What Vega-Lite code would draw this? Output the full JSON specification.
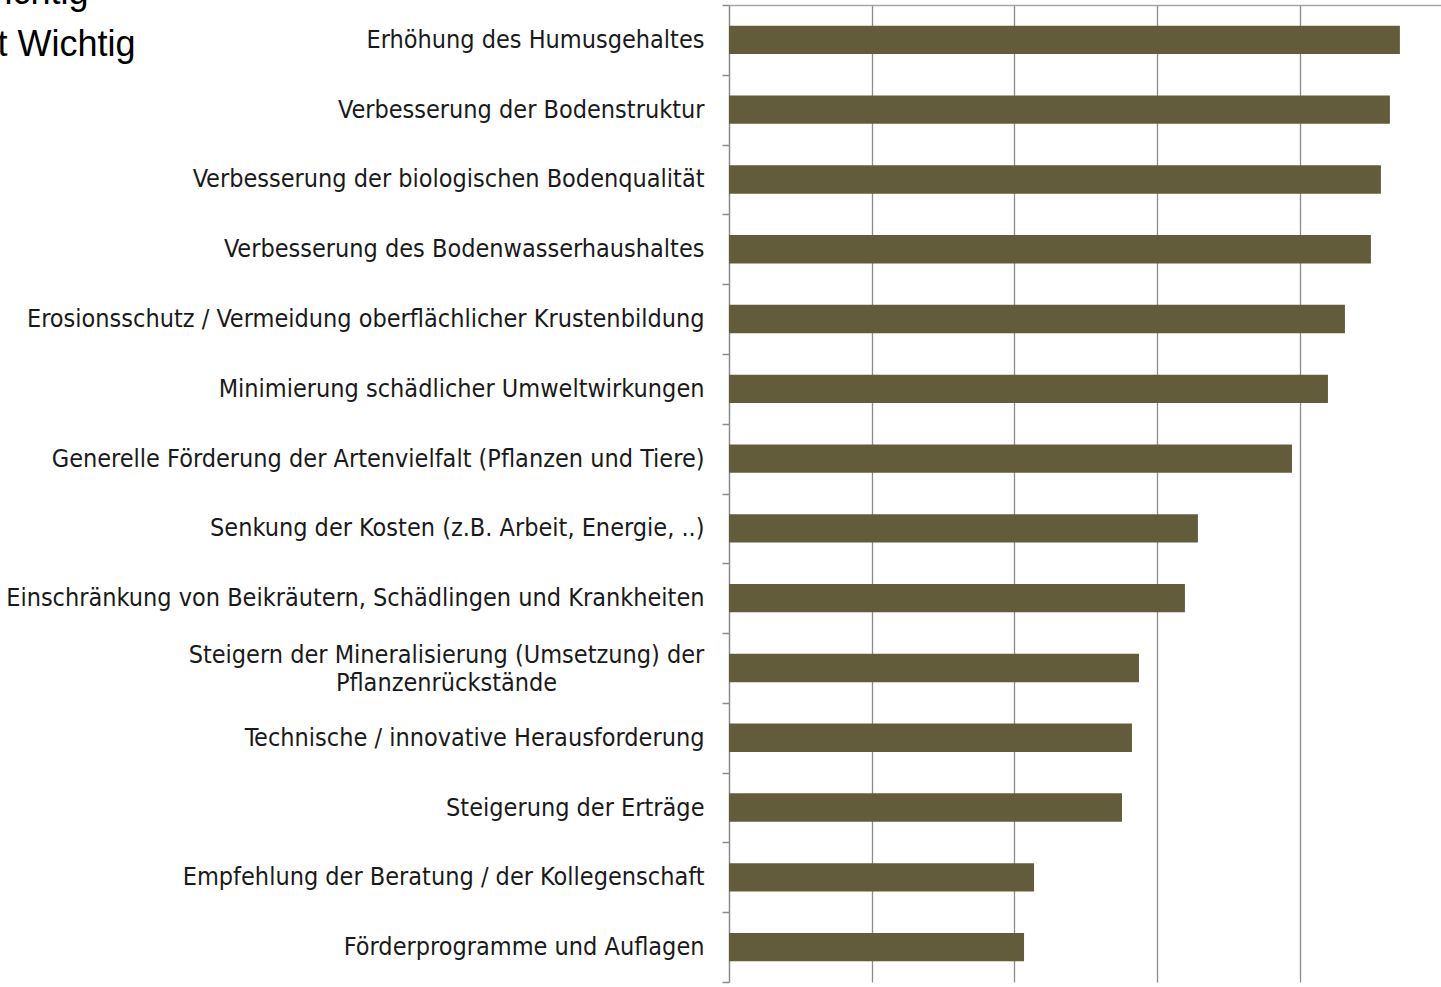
{
  "$schema": "https://vega.github.io/schema/vega-lite/v6.json",
  "width": 712,
  "height": 977,
  "autosize": "none",
  "padding": {"left": 729, "top": 5, "right": 0, "bottom": 5},
  "background": "#ffffff",
  "config": {"view": {"stroke": null}},
  "data": {
    "values": [
      {"item": "Erhöhung des Humusgehaltes", "wert": 4.70},
      {"item": "Verbesserung der Bodenstruktur", "wert": 4.63},
      {"item": "Verbesserung der biologischen Bodenqualität", "wert": 4.567},
      {"item": "Verbesserung des Bodenwasserhaushaltes", "wert": 4.497},
      {"item": "Erosionsschutz / Vermeidung oberflächlicher Krustenbildung", "wert": 4.315},
      {"item": "Minimierung schädlicher Umweltwirkungen", "wert": 4.196},
      {"item": "Generelle Förderung der Artenvielfalt (Pflanzen und Tiere)", "wert": 3.944},
      {"item": "Senkung der Kosten (z.B. Arbeit, Energie, ..)", "wert": 3.285},
      {"item": "Einschränkung von Beikräutern, Schädlingen und Krankheiten", "wert": 3.194},
      {"item": "Steigern der Mineralisierung (Umsetzung) der Pflanzenrückstände", "wert": 2.872},
      {"item": "Technische / innovative Herausforderung", "wert": 2.823},
      {"item": "Steigerung der Erträge", "wert": 2.753},
      {"item": "Empfehlung der Beratung / der Kollegenschaft", "wert": 2.137},
      {"item": "Förderprogramme und Auflagen", "wert": 2.067}
    ]
  },
  "layer": [
    {
      "mark": {"type": "bar", "color": "#625C3A"},
      "encoding": {
        "y": {
          "field": "item",
          "type": "nominal",
          "sort": null,
          "scale": {"paddingInner": 0.594, "paddingOuter": 0.297},
          "axis": {
            "orient": "left",
            "title": null,
            "ticks": false,
            "domain": false,
            "grid": false,
            "labelFont": "DejaVu Sans Condensed, sans-serif",
            "labelFontSize": 25,
            "labelColor": "#1a1a1a",
            "labelLimit": 0,
            "labelLineHeight": 28,
            "labelExpr": "datum.value == 'Steigern der Mineralisierung (Umsetzung) der Pflanzenrückstände' ? ['Steigern der Mineralisierung (Umsetzung) der', 'Pflanzenrückstände'] : datum.value",
            "labelAlign": {"condition": {"test": "datum.value == 'Steigern der Mineralisierung (Umsetzung) der Pflanzenrückstände'", "value": "center"}, "value": "right"},
            "labelPadding": {"condition": {"test": "datum.value == 'Steigern der Mineralisierung (Umsetzung) der Pflanzenrückstände'", "value": 283}, "value": 25},
            "labelOffset": {"condition": {"test": "datum.value == 'Steigern der Mineralisierung (Umsetzung) der Pflanzenrückstände'", "value": -13}, "value": 0}
          }
        },
        "x": {
          "field": "wert",
          "type": "quantitative",
          "scale": {"domain": [0, 4.988], "nice": false, "zero": true},
          "axis": {
            "orient": "top",
            "values": [1, 2, 3, 4],
            "labels": false,
            "ticks": false,
            "grid": true,
            "gridColor": "#8c8c8c",
            "gridWidth": 1.3,
            "domain": true,
            "domainColor": "#a6a6a6",
            "domainWidth": 1.6,
            "title": "Wichtig",
            "titleX": -759,
            "titleY": -2,
            "titleAlign": "left",
            "titleBaseline": "alphabetic",
            "titleFont": "Liberation Sans, Arial, sans-serif",
            "titleFontSize": 36,
            "titleFontWeight": "normal",
            "titleColor": "#000000"
          }
        }
      }
    },
    {
      "mark": {"type": "tick", "opacity": 0},
      "encoding": {
        "y": {
          "datum": 0,
          "type": "quantitative",
          "scale": {"domain": [0, 14], "nice": false},
          "axis": {
            "orient": "left",
            "values": [0, 1, 2, 3, 4, 5, 6, 7, 8, 9, 10, 11, 12, 13, 14],
            "labels": false,
            "grid": false,
            "domain": true,
            "domainColor": "#8c8c8c",
            "domainWidth": 1.5,
            "ticks": true,
            "tickSize": 7,
            "tickColor": "#8c8c8c",
            "tickWidth": 1.5,
            "title": "Nicht Wichtig",
            "titleAngle": 0,
            "titleX": -804,
            "titleY": 50,
            "titleAlign": "left",
            "titleBaseline": "alphabetic",
            "titleFont": "Liberation Sans, Arial, sans-serif",
            "titleFontSize": 36,
            "titleFontWeight": "normal",
            "titleColor": "#000000"
          }
        }
      }
    }
  ],
  "resolve": {"scale": {"y": "independent"}, "axis": {"y": "independent"}}
}
